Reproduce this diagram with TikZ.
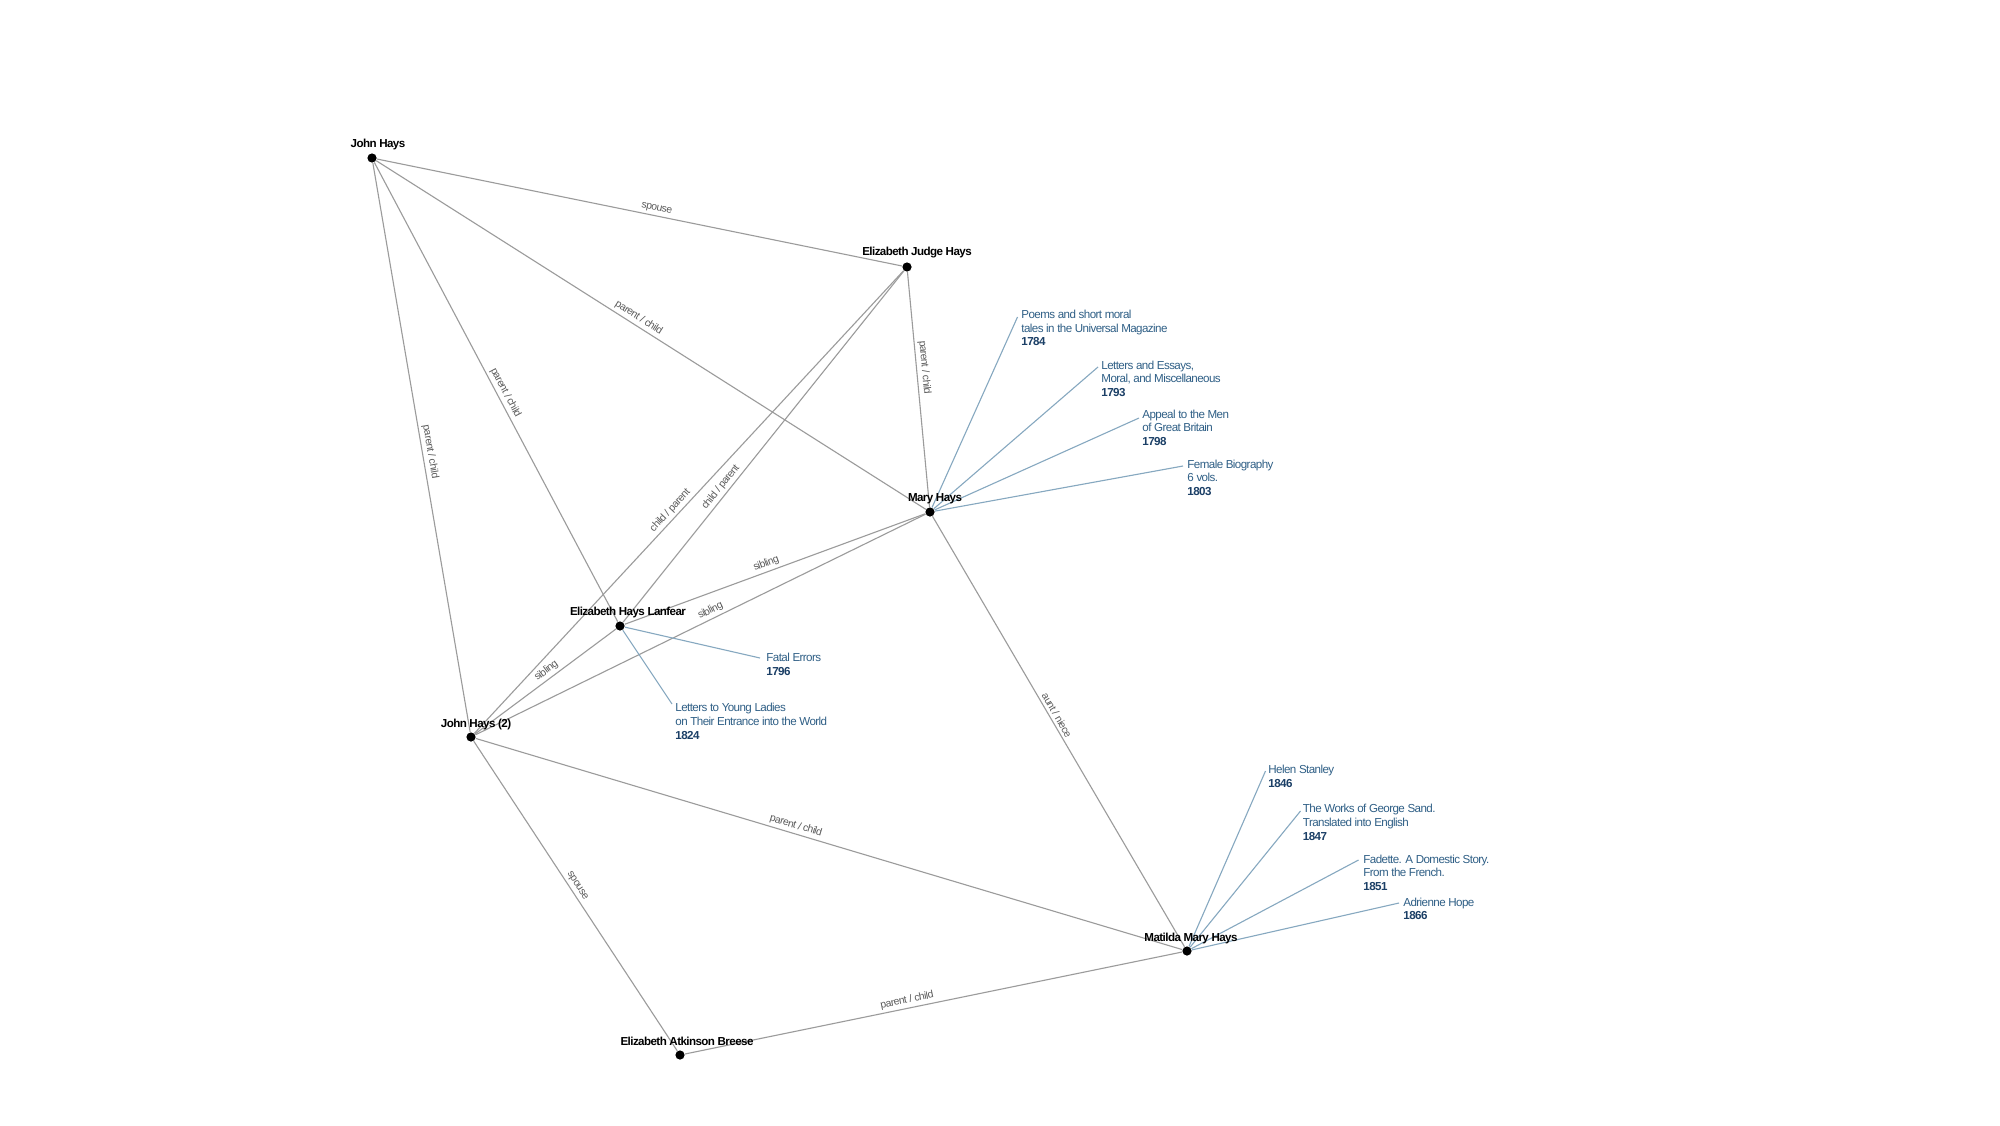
\documentclass[tikz,border=0pt]{standalone}
\usepackage{fontspec}
\setmainfont{Liberation Sans}[LetterSpace=-5]
\definecolor{edgegray}{HTML}{9B9B9B}
\definecolor{labgray}{HTML}{5A5A5A}
\definecolor{workblue}{HTML}{2F5F86}
\definecolor{yearblue}{HTML}{1B3F66}
\definecolor{worklinec}{HTML}{86A8C0}
\newcommand{\namefont}{\fontsize{5.8}{7}\selectfont\bfseries}
\newcommand{\workfont}{\fontsize{5.8}{6.8}\selectfont}
\newcommand{\edgefont}{\fontsize{5.2}{6}\selectfont}
\newcommand{\yearlabel}[1]{{\bfseries\color{yearblue}#1}}
\begin{document}
\begin{tikzpicture}[x=0.5pt,y=-0.5pt,
  persondot/.style={circle,fill=black,inner sep=0pt,minimum size=4.6pt},
  personlbl/.style={font=\namefont,anchor=base,inner sep=0pt},
  worktext/.style={font=\workfont,text=workblue,align=left,anchor=north west,inner sep=0pt},
  relline/.style={draw=edgegray,line width=0.55pt},
  workline/.style={draw=worklinec,line width=0.55pt},
  rellbl/.style={font=\edgefont,text=labgray,sloped,above,inner sep=1.3pt}]
\useasboundingbox[fill=white] (0,0) rectangle (2000,1125);

% people
\node[persondot] (jh)  at (372,158) {};
\node[persondot] (ejh) at (907,267) {};
\node[persondot] (mh)  at (930,512) {};
\node[persondot] (ehl) at (620,626) {};
\node[persondot] (jh2) at (471,737) {};
\node[persondot] (mmh) at (1187,951) {};
\node[persondot] (eab) at (680,1055) {};

% relations
\draw[relline] (jh) -- node[rellbl,pos=0.53]{spouse} (ejh);
\draw[relline] (jh) -- node[rellbl,pos=0.47]{parent / child} (mh);
\draw[relline] (jh) -- node[rellbl,pos=0.51]{parent / child} (ehl);
\draw[relline] (jh) -- node[rellbl,pos=0.51]{parent / child} (jh2);
\draw[relline] (ejh) -- node[rellbl,pos=0.41]{parent / child} (mh);
\draw[relline] (ejh) -- node[rellbl,pos=0.53]{child / parent} (jh2);
\draw[relline] (ejh) -- node[rellbl,pos=0.63]{child / parent} (ehl);
\draw[relline] (ehl) -- node[rellbl,pos=0.48]{sibling} (mh);
\draw[relline] (jh2) -- node[rellbl,pos=0.53]{sibling} (mh);
\draw[relline] (jh2) -- node[rellbl,pos=0.54]{sibling} (ehl);
\draw[relline] (mh) -- node[rellbl,pos=0.47]{aunt / niece} (mmh);
\draw[relline] (jh2) -- node[rellbl,pos=0.45]{parent / child} (mmh);
\draw[relline] (jh2) -- node[rellbl,pos=0.48]{spouse} (eab);
\draw[relline] (eab) -- node[rellbl,pos=0.45]{parent / child} (mmh);

% works of Mary Hays
\coordinate (w1c) at (1017.5,317);
\coordinate (w2c) at (1098,367);
\coordinate (w3c) at (1139,418);
\coordinate (w4c) at (1183,466);
\draw[workline] (mh) -- (w1c);
\draw[workline] (mh) -- (w2c);
\draw[workline] (mh) -- (w3c);
\draw[workline] (mh) -- (w4c);
\node[worktext] (w1) at (1021,309.8) {Poems and short moral\\tales in the Universal Magazine\\\yearlabel{1784}};
\node[worktext] (w2) at (1101,360.3) {Letters and Essays,\\Moral, and Miscellaneous\\\yearlabel{1793}};
\node[worktext] (w3) at (1142,409.3) {Appeal to the Men\\of Great Britain\\\yearlabel{1798}};
\node[worktext] (w4) at (1187,459.3) {Female Biography\\6 vols.\\\yearlabel{1803}};

% works of Elizabeth Hays Lanfear
\coordinate (f1c) at (760,658);
\coordinate (f2c) at (672,704);
\draw[workline] (ehl) -- (f1c);
\draw[workline] (ehl) -- (f2c);
\node[worktext] (f1) at (766,652.8) {Fatal Errors\\\yearlabel{1796}};
\node[worktext] (f2) at (675,703) {Letters to Young Ladies\\on Their Entrance into the World\\\yearlabel{1824}};

% works of Matilda Mary Hays
\coordinate (m1c) at (1265.5,771);
\coordinate (m2c) at (1300.5,811);
\coordinate (m3c) at (1358.5,860);
\coordinate (m4c) at (1399,903);
\draw[workline] (mmh) -- (m1c);
\draw[workline] (mmh) -- (m2c);
\draw[workline] (mmh) -- (m3c);
\draw[workline] (mmh) -- (m4c);
\node[worktext] (m1) at (1268,764.8) {Helen Stanley\\\yearlabel{1846}};
\node[worktext] (m2) at (1302.5,804) {The Works of George Sand.\\Translated into English\\\yearlabel{1847}};
\node[worktext] (m3) at (1363,854.5) {Fadette. A Domestic Story.\\From the French.\\\yearlabel{1851}};
\node[worktext] (m4) at (1403,897.5) {Adrienne Hope\\\yearlabel{1866}};

% person labels (on top of the lines)
\node[personlbl] (jhL)  at (378,147)  {John Hays};
\node[personlbl] (ejhL) at (917,255)  {Elizabeth Judge Hays};
\node[personlbl] (mhL)  at (935,501)  {Mary Hays};
\node[personlbl] (ehlL) at (628,615)  {Elizabeth Hays Lanfear};
\node[personlbl] (jh2L) at (476,727)  {John Hays (2)};
\node[personlbl] (mmhL) at (1191,941) {Matilda Mary Hays};
\node[personlbl] (eabL) at (687,1045) {Elizabeth Atkinson Breese};
\end{tikzpicture}
\end{document}
